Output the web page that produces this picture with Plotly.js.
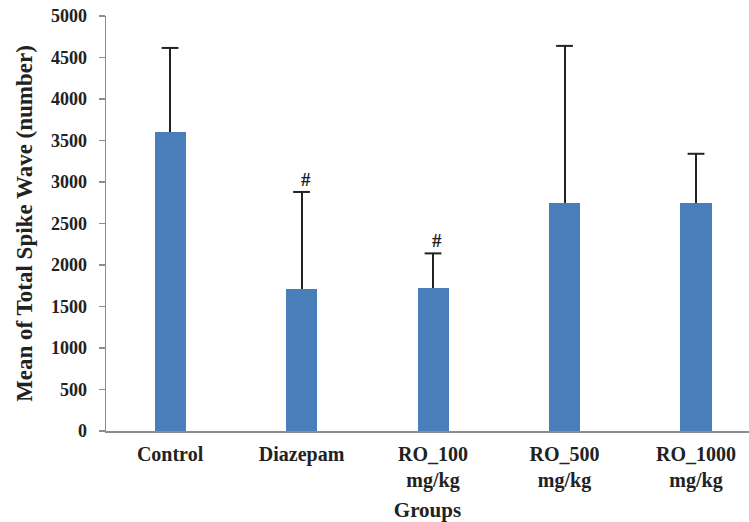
<!DOCTYPE html>
<html>
<head>
<meta charset="utf-8">
<script src="https://cdn.plot.ly/plotly-3.0.1.min.js"></script>
<style>html,body{margin:0;padding:0;background:#fff;}#chart{width:749px;height:522px;}</style>
</head>
<body>
<div id="chart"></div>
<script>
const categories = ["Control", "Diazepam", "RO_100<br>mg/kg", "RO_500<br>mg/kg", "RO_1000<br>mg/kg"];
const means = [3600, 1710, 1725, 2750, 2750];
const errorsPlus = [1015, 1170, 415, 1890, 590];
const marks = ["", "#", "#", "", ""];

const serif = "Liberation Serif, Times New Roman, serif";
const upper = means.map((m, i) => m + errorsPlus[i]);

const barTrace = {
  type: "bar",
  x: categories,
  y: means,
  width: 0.236,
  marker: {color: "#4a7ebb", line: {width: 0}},
  error_y: {
    type: "data",
    symmetric: false,
    array: errorsPlus,
    arrayminus: errorsPlus.map(() => 0),
    color: "#222",
    thickness: 2,
    width: 0
  },
  hoverinfo: "none"
};

// caps only at the upper end of each error bar
const capTrace = {
  type: "scatter",
  mode: "markers",
  x: categories,
  y: upper,
  marker: {symbol: "line-ew", size: 12, line: {width: 2, color: "#222"}},
  hoverinfo: "none"
};

const annotations = [];
marks.forEach((m, i) => {
  if (m) {
    annotations.push({
      x: categories[i], y: upper[i],
      xref: "x", yref: "y",
      text: "<b>" + m + "</b>",
      showarrow: false,
      yanchor: "bottom", xanchor: "center",
      xshift: 4, yshift: 0,
      font: {family: serif, size: 19, color: "#222"}
    });
  }
});

const layout = {
  width: 749, height: 522,
  margin: {l: 106, r: 0, t: 16, b: 91},
  paper_bgcolor: "#fff", plot_bgcolor: "#fff",
  showlegend: false,
  bargap: 0,
  xaxis: {
    type: "category",
    range: [-0.487, 4.403],
    showline: true, linecolor: "#8c8c8c", linewidth: 1.5,
    ticks: "", showgrid: false, zeroline: false,
    tickfont: {family: serif, size: 20, color: "#222", weight: "bold"},
    ticklabelstandoff: 4,
    title: {text: "<b>Groups</b>", font: {family: serif, size: 21, color: "#222"}, standoff: 14}
  },
  yaxis: {
    range: [0, 5000],
    dtick: 500,
    showline: true, linecolor: "#8c8c8c", linewidth: 1.5,
    ticks: "outside", ticklen: 6, tickcolor: "#8c8c8c", tickwidth: 1.5,
    showgrid: false, zeroline: false,
    tickfont: {family: serif, size: 18, color: "#222", weight: "bold"},
    ticklabelstandoff: 8,
    title: {text: "<b>Mean of Total Spike Wave (number)</b>", font: {family: serif, size: 23, color: "#222"}, standoff: 12}
  },
  annotations: annotations
};

Plotly.newPlot("chart", [barTrace, capTrace], layout, {staticPlot: true, displayModeBar: false});
</script>
</body>
</html>
